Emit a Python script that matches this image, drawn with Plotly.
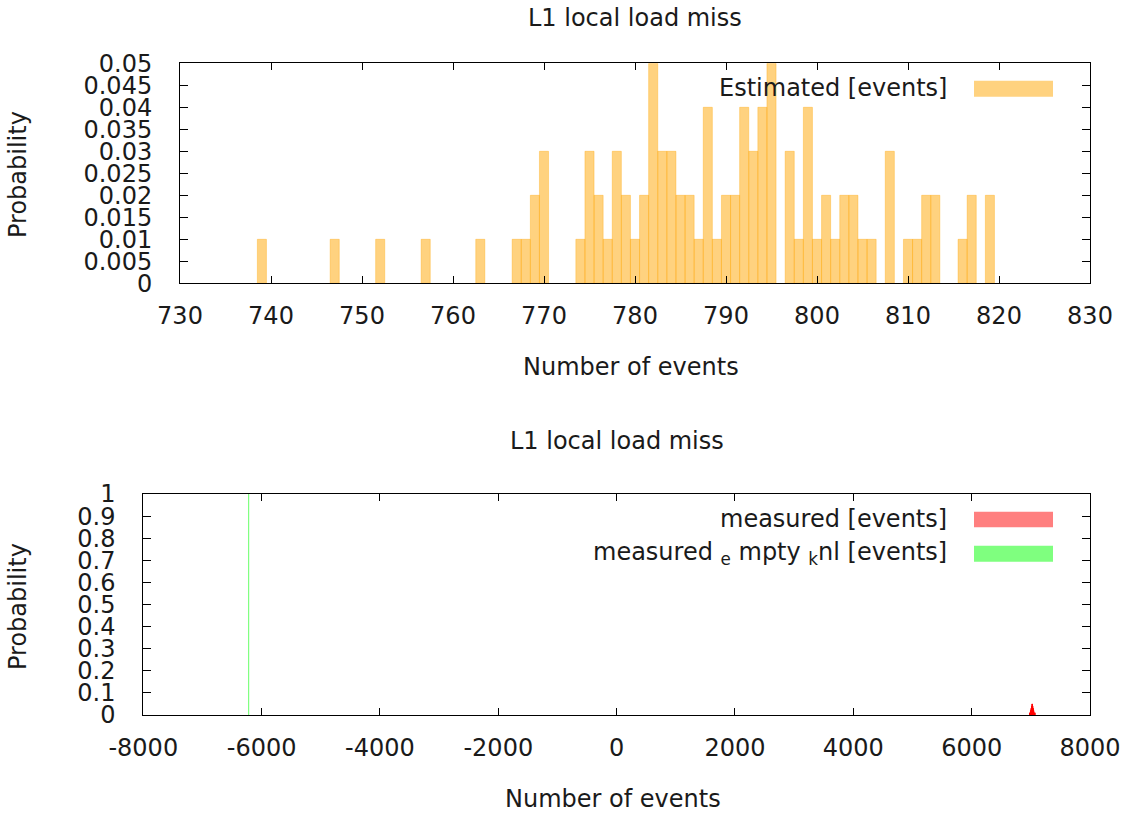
import plotly.graph_objects as go

W, H = 1122, 813
FONT = "DejaVu Sans"

# Estimated distribution: number of events -> probability
est_events = [739, 747, 752, 757, 763, 767, 768, 769, 770, 774, 775, 776, 777,
              778, 779, 780, 781, 782, 783, 784, 785, 786, 787, 788, 789, 790,
              791, 792, 793, 794, 795, 797, 798, 799, 800, 801, 802, 803, 804,
              805, 806, 808, 810, 811, 812, 813, 816, 817, 819]
est_prob = [0.01, 0.01, 0.01, 0.01, 0.01, 0.01, 0.01, 0.02, 0.03, 0.01, 0.03,
            0.02, 0.01, 0.03, 0.02, 0.01, 0.02, 0.05, 0.03, 0.03, 0.02, 0.02,
            0.01, 0.04, 0.01, 0.02, 0.02, 0.04, 0.03, 0.04, 0.05, 0.03, 0.01,
            0.04, 0.01, 0.02, 0.01, 0.02, 0.02, 0.01, 0.01, 0.03, 0.01, 0.01,
            0.02, 0.02, 0.01, 0.02, 0.02]

# Measured distributions
meas_events = [6978, 6987, 6994, 7000, 7005, 7009, 7013, 7016, 7019, 7021,
               7023, 7025, 7027, 7030, 7033, 7036, 7040, 7044, 7049, 7055,
               7062, 7071]
meas_prob = [0.01, 0.01, 0.02, 0.02, 0.03, 0.03, 0.04, 0.03, 0.04, 0.05, 0.04,
             0.05, 0.04, 0.03, 0.04, 0.03, 0.03, 0.02, 0.02, 0.01, 0.01, 0.01]
empty_events = [-6220]
empty_prob = [1.0]

# Axis ticks
top_xticks = [730, 740, 750, 760, 770, 780, 790, 800, 810, 820, 830]
top_yticks = [0, 0.005, 0.01, 0.015, 0.02, 0.025, 0.03, 0.035, 0.04, 0.045, 0.05]
top_ytext = ["0", "0.005", "0.01", "0.015", "0.02", "0.025", "0.03", "0.035",
             "0.04", "0.045", "0.05"]
bot_xticks = [-8000, -6000, -4000, -2000, 0, 2000, 4000, 6000, 8000]
bot_xtext = ["-8000", "-6000", "-4000", "-2000", "0", "2000", "4000", "6000", "8000"]
bot_yticks = [0, 0.1, 0.2, 0.3, 0.4, 0.5, 0.6, 0.7, 0.8, 0.9, 1]
bot_ytext = ["0", "0.1", "0.2", "0.3", "0.4", "0.5", "0.6", "0.7", "0.8", "0.9", "1"]


def px(x):
    return x / W


def py(y):
    return 1 - y / H


fig = go.Figure()
fig.add_trace(go.Bar(
    x=est_events, y=est_prob, width=1, name="Estimated [events]",
    marker=dict(color="rgba(255,165,0,0.5)",
                line=dict(color="rgba(255,165,0,0.35)", width=1)),
    xaxis="x", yaxis="y", showlegend=False))
fig.add_trace(go.Bar(
    x=meas_events, y=meas_prob, width=1, name="measured [events]",
    marker=dict(color="rgba(255,0,0,0.5)",
                line=dict(color="rgba(255,0,0,0.9)", width=1)),
    xaxis="x2", yaxis="y2", showlegend=False))
fig.add_trace(go.Bar(
    x=empty_events, y=empty_prob, width=1, name="measured_empty_knl [events]",
    marker=dict(color="rgba(0,255,0,0.5)",
                line=dict(color="#80ff80", width=1)),
    xaxis="x2", yaxis="y2", showlegend=False))

axis_common = dict(
    showline=True, linecolor="black", linewidth=1, mirror="ticks",
    ticks="inside", tickcolor="black", tickwidth=1, showgrid=False,
    zeroline=False, automargin=False,
    tickfont=dict(family=FONT, size=24, color="#1a1a1a"),
)

fig.update_layout(
    template="none",
    width=W, height=H,
    margin=dict(l=0, r=0, t=0, b=0, pad=0, autoexpand=False),
    paper_bgcolor="white", plot_bgcolor="white",
    barmode="overlay",
    font=dict(family=FONT, size=24, color="#1a1a1a"),
    xaxis=dict(axis_common, domain=[px(180), px(1090)], range=[730, 830],
               tickvals=top_xticks, ticklen=7, anchor="y",
               ticklabelstandoff=11),
    yaxis=dict(axis_common, domain=[py(283.3), py(63.3)], range=[0, 0.05],
               tickvals=top_yticks, ticktext=top_ytext, ticklen=8, anchor="x",
               ticklabelstandoff=22),
    xaxis2=dict(axis_common, domain=[px(143.3), px(1090)], range=[-8000, 8000],
                tickvals=bot_xticks, ticktext=bot_xtext, ticklen=7, anchor="y2",
                ticklabelstandoff=11),
    yaxis2=dict(axis_common, domain=[py(715), py(494)], range=[0, 1],
                tickvals=bot_yticks, ticktext=bot_ytext, ticklen=8, anchor="x2",
                ticklabelstandoff=22),
)

text_font = dict(family=FONT, size=24, color="#1a1a1a")


def label(x, y, text, xanchor="center", angle=0):
    fig.add_annotation(x=px(x), y=py(y), xref="paper", yref="paper",
                       text=text, showarrow=False, xanchor=xanchor,
                       yanchor="middle", textangle=angle, font=text_font)


# Titles and axis labels
label(635, 18, "L1 local load miss")
label(631, 367, "Number of events")
label(18, 175, "Probability", angle=-90)
label(617, 441, "L1 local load miss")
label(613, 799, "Number of events")
label(18, 607, "Probability", angle=-90)

# Key entries (text on the left, colour sample on the right)
label(949, 88, "Estimated [events]", xanchor="right")
label(949, 519, "measured [events]", xanchor="right")
label(949, 553, "measured <sub>e</sub> mpty <sub>k</sub>nl [events]", xanchor="right")

for y0, y1, col in [(80.7, 96.7, "rgba(255,165,0,0.5)"),
                    (511.7, 527.3, "rgba(255,0,0,0.5)"),
                    (545.7, 561.7, "rgba(0,255,0,0.5)")]:
    fig.add_shape(type="rect", xref="paper", yref="paper",
                  x0=px(974), x1=px(1053), y0=py(y1), y1=py(y0),
                  fillcolor=col, line=dict(width=0))

fig.write_html("out.html")
